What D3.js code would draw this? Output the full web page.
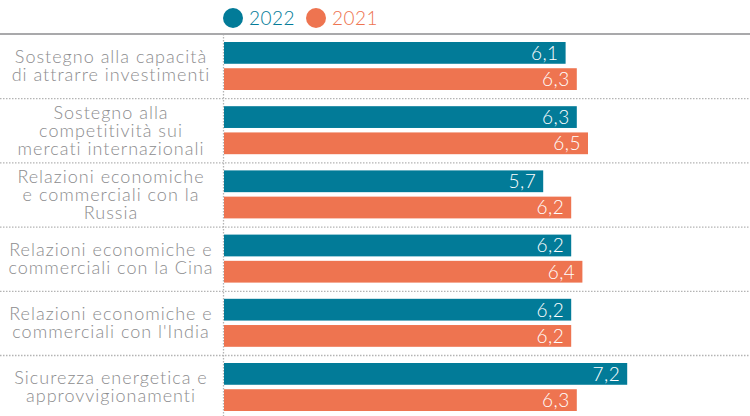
<!DOCTYPE html>
<html>
<head>
<meta charset="utf-8">
<script src="https://cdn.jsdelivr.net/npm/d3@7"></script>
<style>
  body { margin: 0; background: #fff; }
  svg { display: block; }
  text { font-family: "Lato", "Open Sans", sans-serif; font-weight: 300; }
</style>
</head>
<body>
<div id="plot"></div>
<script>
// Chart data
var categories = [
  ["Sostegno alla capacità", "di attrarre investimenti"],
  ["Sostegno alla", "competitività sui", "mercati internazionali"],
  ["Relazioni economiche", "e commerciali con la", "Russia"],
  ["Relazioni economiche e", "commerciali con la Cina"],
  ["Relazioni economiche e", "commerciali con l'India"],
  ["Sicurezza energetica e", "approvvigionamenti"]
];
var series = ["2022", "2021"];
var values2022 = [6.1, 6.3, 5.7, 6.2, 6.2, 7.2];
var values2021 = [6.3, 6.5, 6.2, 6.4, 6.2, 6.3];

var colors = { "2022": "#027b98", "2021": "#ee7450" };

// Initializations
var width = 750;
var height = 416;
var top_line = 34;
var row_h = 64.2;
var label_x = 111;

var svg = d3.select("#plot")
    .append("svg")
    .attr("width", width)
    .attr("height", height);

var ids = categories.map(function(d, i) { return i; });

var yScale = d3.scaleBand()
    .domain(ids)
    .range([top_line, top_line + row_h * categories.length]);

var ySub = d3.scaleBand()
    .domain(series)
    .range([8, 56])
    .paddingInner(0.17);

var xScale = d3.scaleLinear()
    .domain([0, 10])
    .range([224, 784]);

// Separators
svg.append("g")
    .selectAll("line")
    .data(ids.slice(1))
    .enter()
    .append("line")
    .attr("x1", 0)
    .attr("x2", width)
    .attr("y1", function(d) { return yScale(d) + 0.5; })
    .attr("y2", function(d) { return yScale(d) + 0.5; })
    .attr("stroke", "#b4b4b4")
    .attr("stroke-width", 1.3)
    .attr("stroke-dasharray", "1.5,1.5");

// Vertical baseline
svg.append("line")
    .attr("x1", xScale(0) - 0.5)
    .attr("x2", xScale(0) - 0.5)
    .attr("y1", top_line)
    .attr("y2", height)
    .attr("stroke", "#b4b4b4")
    .attr("stroke-width", 1.3)
    .attr("stroke-dasharray", "1.5,1.5");

// Top solid line
svg.append("line")
    .attr("x1", 0)
    .attr("x2", width)
    .attr("y1", top_line)
    .attr("y2", top_line)
    .attr("stroke", "#a9a9ab")
    .attr("stroke-width", 2);

// Bars
var rows = ids.map(function(i) {
  return [
    { cat: i, key: "2022", value: values2022[i] },
    { cat: i, key: "2021", value: values2021[i] }
  ];
});
var flat = [].concat.apply([], rows);

svg.append("g")
    .selectAll("rect")
    .data(flat)
    .enter()
    .append("rect")
    .attr("x", xScale(0))
    .attr("y", function(d) { return yScale(d.cat) + ySub(d.key); })
    .attr("width", function(d) { return xScale(d.value) - xScale(0); })
    .attr("height", ySub.bandwidth())
    .attr("fill", function(d) { return colors[d.key]; });

// Value labels
svg.append("g")
    .selectAll("text")
    .data(flat)
    .enter()
    .append("text")
    .attr("x", function(d) { return xScale(d.value) - 7; })
    .attr("y", function(d) { return yScale(d.cat) + ySub(d.key) + ySub.bandwidth() / 2; })
    .attr("dy", "0.36em")
    .attr("text-anchor", "end")
    .attr("fill", "#fff")
    .style("font-size", "19px")
    .style("letter-spacing", "0.5px")
    .text(function(d) { return String(d.value).replace(".", ","); });

// Category labels
var lineH = 18;
var labels = svg.append("g")
    .selectAll("text")
    .data(categories)
    .enter()
    .append("text")
    .attr("text-anchor", "middle")
    .attr("fill", "#8c8c8e")
    .style("font-size", "18px")
    .style("letter-spacing", "1px");

labels.each(function(lines, i) {
  var cy = yScale(i) + row_h / 2;
  var start = cy - (lines.length - 1) * lineH / 2;
  d3.select(this).selectAll("tspan")
    .data(lines)
    .enter()
    .append("tspan")
    .attr("x", label_x)
    .attr("y", function(d, j) { return start + j * lineH; })
    .attr("dy", "0.35em")
    .text(function(d) { return d; });
});

// Legend
var legend = svg.append("g");
var legendX = [233, 316];
series.forEach(function(s, i) {
  legend.append("circle")
      .attr("cx", legendX[i])
      .attr("cy", 18)
      .attr("r", 10)
      .attr("fill", colors[s]);
  legend.append("text")
      .attr("x", legendX[i] + 16)
      .attr("y", 18)
      .attr("dy", "0.36em")
      .attr("fill", colors[s])
      .style("font-size", "19px")
      .style("letter-spacing", "0.5px")
      .text(s);
});
</script>
</body>
</html>
